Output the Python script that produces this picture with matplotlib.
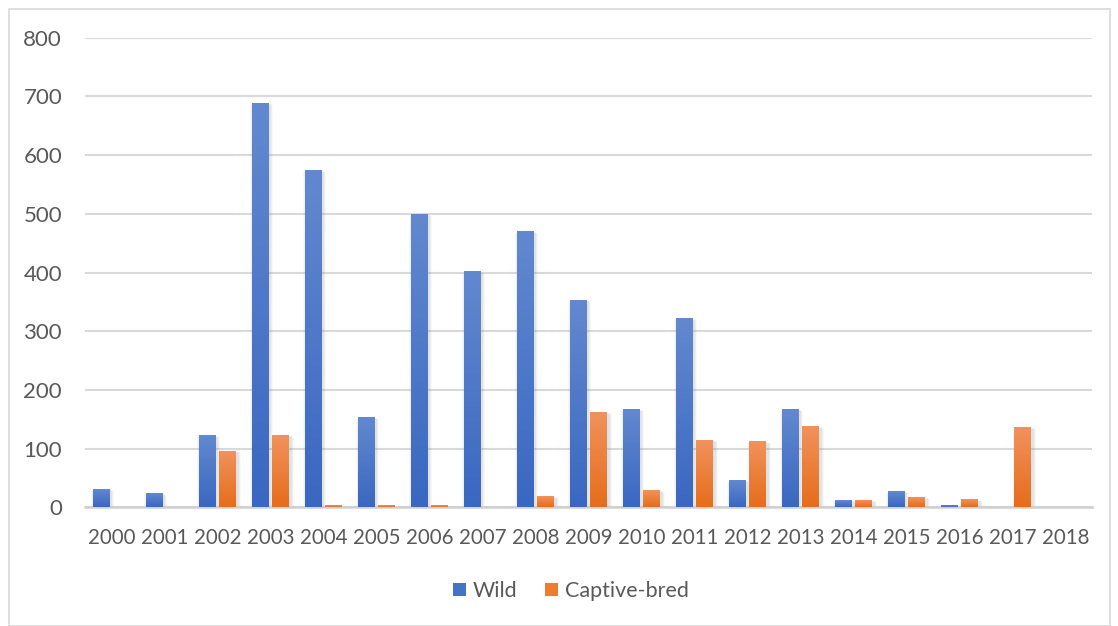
import numpy as np
import matplotlib
matplotlib.use('Agg')
import matplotlib.pyplot as plt
from matplotlib.patches import Patch, Rectangle

years = [str(y) for y in range(2000, 2019)]
wild = [30, 23, 121, 688, 573, 152, 498, 401, 469, 352, 166, 321, 45, 166, 11, 26, 2, 0, 0]
captive = [0, 0, 95, 122, 2, 2, 2, 0, 18, 161, 28, 113, 111, 137, 11, 16, 12, 135, 0]

blue_top, blue_bot = '#6289CF', '#3A67C1'
orange_top, orange_bot = '#F1925D', '#E66D1B'

plt.rcParams['font.family'] = ['Lato', 'DejaVu Sans']

W, H = 1118, 626
fig = plt.figure(figsize=(W / 100, H / 100), dpi=100)
ax = fig.add_axes([85 / W, 1 - 507.3 / H, (1092 - 85) / W, (507.3 - 37.7) / H])


def gradient(c_top, c_bot):
    a = np.array(matplotlib.colors.to_rgb(c_top))
    b = np.array(matplotlib.colors.to_rgb(c_bot))
    t = np.linspace(0, 1, 64)[:, None]
    return (a * (1 - t) + b * t)[:, None, :]


def draw_bar(x, h, width, c_top, c_bot):
    if h <= 0:
        return
    x0, x1 = x - width / 2, x + width / 2
    # soft shadow behind the bar
    for k, a in zip([3, 2, 1], [0.05, 0.07, 0.10]):
        dx = k * 1.0 / 53
        dy = k * 1.7
        ax.add_patch(Rectangle((x0 - dx + 1.5 / 53, -dy), width + 2 * dx, h + dy * 0.6,
                               facecolor='#7F7F7F', edgecolor='none', alpha=a, zorder=2))
    ax.imshow(gradient(c_top, c_bot), extent=(x0, x1, 0, h), aspect='auto',
              interpolation='bilinear', zorder=3)


idx = np.arange(len(years))
bw = 0.32
off = 0.19
for i in idx:
    draw_bar(i - off, wild[i], bw, blue_top, blue_bot)
    draw_bar(i + off, captive[i], bw, orange_top, orange_bot)

ax.set_xlim(-0.5, len(years) - 0.5)
ax.set_ylim(0, 800)
ax.set_yticks(range(0, 801, 100))
ax.set_xticks(idx)
ax.set_xticklabels(years)
ax.grid(axis='y', color='#D9D9D9', linewidth=1.5, zorder=0)
ax.set_axisbelow(True)
for s in ['top', 'right', 'left']:
    ax.spines[s].set_visible(False)
ax.spines['bottom'].set_color('#D0D0D0')
ax.spines['bottom'].set_linewidth(1.8)
ax.tick_params(axis='both', length=0, labelcolor='#595959')
ax.tick_params(axis='y', labelsize=16, pad=16.5)
ax.tick_params(axis='x', labelsize=14.8, pad=15)

handles = [Patch(facecolor='#4472C4', label='Wild'),
           Patch(facecolor='#ED7D31', label='Captive-bred')]
leg = fig.legend(handles=handles, loc='center', bbox_to_anchor=(571 / W, 1 - 591 / H),
                 ncol=2, frameon=False, fontsize=15.5, handlelength=0.6, handleheight=0.6,
                 handletextpad=0.3, columnspacing=1.3)
for t in leg.get_texts():
    t.set_color('#595959')

# chart frame
fig.add_artist(Rectangle((8.5 / W, 1 - 626 / H), (1110 - 8.5) / W, (626 - 9) / H,
                         transform=fig.transFigure, fill=False, edgecolor='#D9D9D9', linewidth=1.2))

fig.savefig('out.png', dpi=100)
